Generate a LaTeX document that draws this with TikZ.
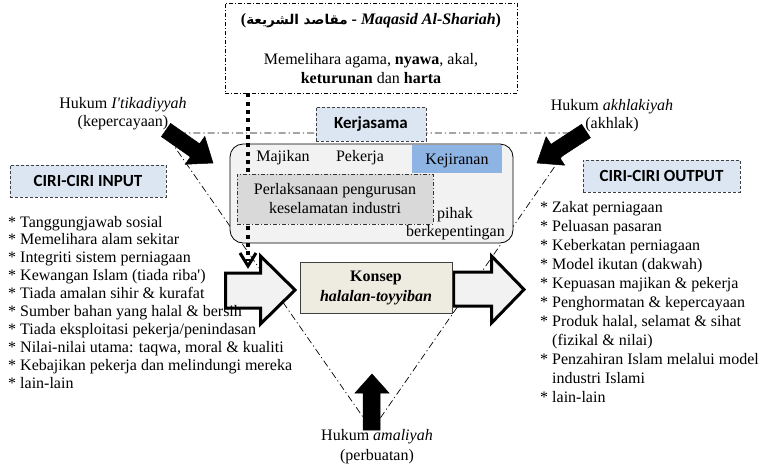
\documentclass[tikz,border=0pt]{standalone}
\usepackage{fontspec}
\setmainfont{Liberation Serif}
\newfontfamily\calib{Carlito}
\newfontfamily\arabicfont[Script=Arabic]{DejaVu Sans}
\TeXXeTstate=1
\definecolor{lblue}{HTML}{DCE6F2}
\definecolor{kblue}{HTML}{8EB4E3}
\definecolor{beige}{HTML}{EEECE1}
\definecolor{lgray}{HTML}{F2F2F2}
\definecolor{mgray}{HTML}{D9D9D9}
\tikzset{
  txt/.style={inner sep=0pt, font=\fontsize{16}{18}\selectfont},
  tri/.style={line width=0.7pt, dash pattern=on 7pt off 3pt on 1.2pt off 3pt},
  blackarrow/.style={fill=black, draw=black, line width=0.5pt, line join=miter},
  hollowarrow/.style={fill=lgray, draw=black, line width=3pt, line join=miter},
  labelbox/.style={draw=black!75, dash pattern=on 3pt off 2pt, line width=0.9pt, fill=lblue,
    font=\calib\bfseries\fontsize{17}{20}\selectfont, inner sep=0pt},
  dotline/.style={line width=4pt, dash pattern=on 4pt off 4.3pt},
  listitem/.style={txt, anchor=base west},
}
\begin{document}
\begin{tikzpicture}[x=1pt,y=-1pt]
\useasboundingbox (0,0) rectangle (771,467);
% triangle
\draw[tri] (165,133) -- (578,133) -- (372,430) -- cycle;
% black arrows
\draw[blackarrow] (161.4,136.6) -- (190.4,156.9) -- (185.2,164.3) -- (213,163) -- (204.8,136.4) -- (199.6,143.8) -- (170.6,123.4) -- cycle;
\draw[blackarrow] (590.4,137.7) -- (559.8,157.7) -- (564.7,165.2) -- (537,163) -- (546.1,136.8) -- (551.0,144.3) -- (581.6,124.3) -- cycle;
\draw[blackarrow] (363,430) -- (363,393) -- (355,393) -- (372,374) -- (389,393) -- (380,393) -- (380,430) -- cycle;
% top box
\node[draw=black, fill=white, line width=0.8pt, dash pattern=on 4pt off 2pt on 1pt off 2pt,
  minimum width=292pt, minimum height=90pt, inner sep=0pt] (maq) at (371,48) {};
\node[txt] (maqtitle) at (371,21) {\textbf{(}{\arabicfont\bfseries\fontsize{13.5}{15}\selectfont\beginR مقاصد الشريعة\endR}\textbf{ - \textit{Maqasid Al-Shariah})}};
\node[txt, align=center] (maqbody) at (371,69) {Memelihara agama, \textbf{nyawa}, akal,\\[1pt]\textbf{keturunan} dan \textbf{harta}};
% context rounded rectangle
\node[draw=black, fill=lgray, rounded corners=13pt, line width=0.8pt, minimum width=283pt, minimum height=99pt, inner sep=0pt] (ctx) at (371.5,193.5) {};
\node[fill=kblue, minimum width=90pt, minimum height=28pt, inner sep=0pt] (kej) at (457,159) {};
\node[txt] (kejt) at (457,161) {Kejiranan};
\node[txt] (maj) at (283,158) {Majikan};
\node[txt] (pek) at (360,158) {Pekerja};
% dotted line
\coordinate (dotend) at (248,266);
\draw[dotline] (maq.south -| dotend) -- ([yshift=5pt]dotend);
% gray box
\node[draw=black!80, fill=mgray, line width=0.7pt, dash pattern=on 4pt off 2pt on 1pt off 2pt,
  minimum width=196pt, minimum height=50pt, inner sep=0pt, txt, align=center] (perl) at (335,199)
  {Perlaksanaan pengurusan\\[1pt]keselamatan industri};
\node[txt] (pihak) at (455,215) {pihak};
\node[txt, anchor=east] (berk) at (505,233) {berkepentingan};
% Kerjasama
\node[labelbox, minimum width=110pt, minimum height=34pt] (kerj) at (371,124) {Kerjasama};
% hollow arrows
\draw[hollowarrow] (225.5,273) -- (260.5,273) -- (260.5,256) -- (295,290) -- (260.5,324) -- (260.5,308) -- (225.5,308) -- cycle;
\draw[hollowarrow] (453.5,272) -- (491.5,272) -- (491.5,256) -- (524,289.5) -- (491.5,323) -- (491.5,306) -- (453.5,306) -- cycle;
% V tip of dotted line
\draw[line width=3pt, line join=miter] ([shift={(-8,-13)}]dotend) -- (dotend) -- ([shift={(8,-13)}]dotend);
% central node
\node[draw=black!75, fill=beige, line width=0.8pt, minimum width=152pt, minimum height=51pt, inner sep=0pt,
  txt, align=center] (konsep) at (376,287.5) {\textbf{Konsep}\\[2pt]\textbf{\textit{halalan-toyyiban}}};
% labels
\node[labelbox, minimum width=156pt, minimum height=32pt] (inp) at (88,181) {CIRI-CIRI INPUT};
\node[labelbox, minimum width=157pt, minimum height=32pt] (outp) at (661.5,176) {CIRI-CIRI OUTPUT};
\node[txt, align=center] (hi) at (123,113.5) {Hukum \textit{I\textquotesingle tikadiyyah}\\(kepercayaan)};
\node[txt, align=center] (ha) at (612,116) {Hukum \textit{akhlakiyah}\\(akhlak)};
\node[txt, align=center] (ham) at (377,447) {Hukum \textit{amaliyah}\\[2pt](perbuatan)};
% lists
\foreach \t [count=\i from 0] in {
  {* Tanggungjawab sosial},
  {* Memelihara alam sekitar},
  {* Integriti sistem perniagaan},
  {* Kewangan Islam (tiada riba\textquotesingle)},
  {* Tiada amalan sihir \& kurafat},
  {* Sumber bahan yang halal \& bersih},
  {* Tiada eksploitasi pekerja/penindasan},
  {* Nilai-nilai utama: taqwa, moral \& kualiti},
  {* Kebajikan pekerja dan melindungi mereka},
  {* lain-lain}}
  \node[listitem] (L\i) at (8,{227+17.9*\i}) {\t};
\foreach \t [count=\i from 0] in {
  {* Zakat perniagaan},
  {* Peluasan pasaran},
  {* Keberkatan perniagaan},
  {* Model ikutan (dakwah)},
  {* Kepuasan majikan \& pekerja},
  {* Penghormatan \& kepercayaan},
  {* Produk halal, selamat \& sihat},
  {\hphantom{*~}(fizikal \& nilai)},
  {* Penzahiran Islam melalui model},
  {\hphantom{*~}industri Islami},
  {* lain-lain}}
  \node[listitem] (R\i) at (540,{212+19*\i}) {\t};
\end{tikzpicture}
\end{document}
